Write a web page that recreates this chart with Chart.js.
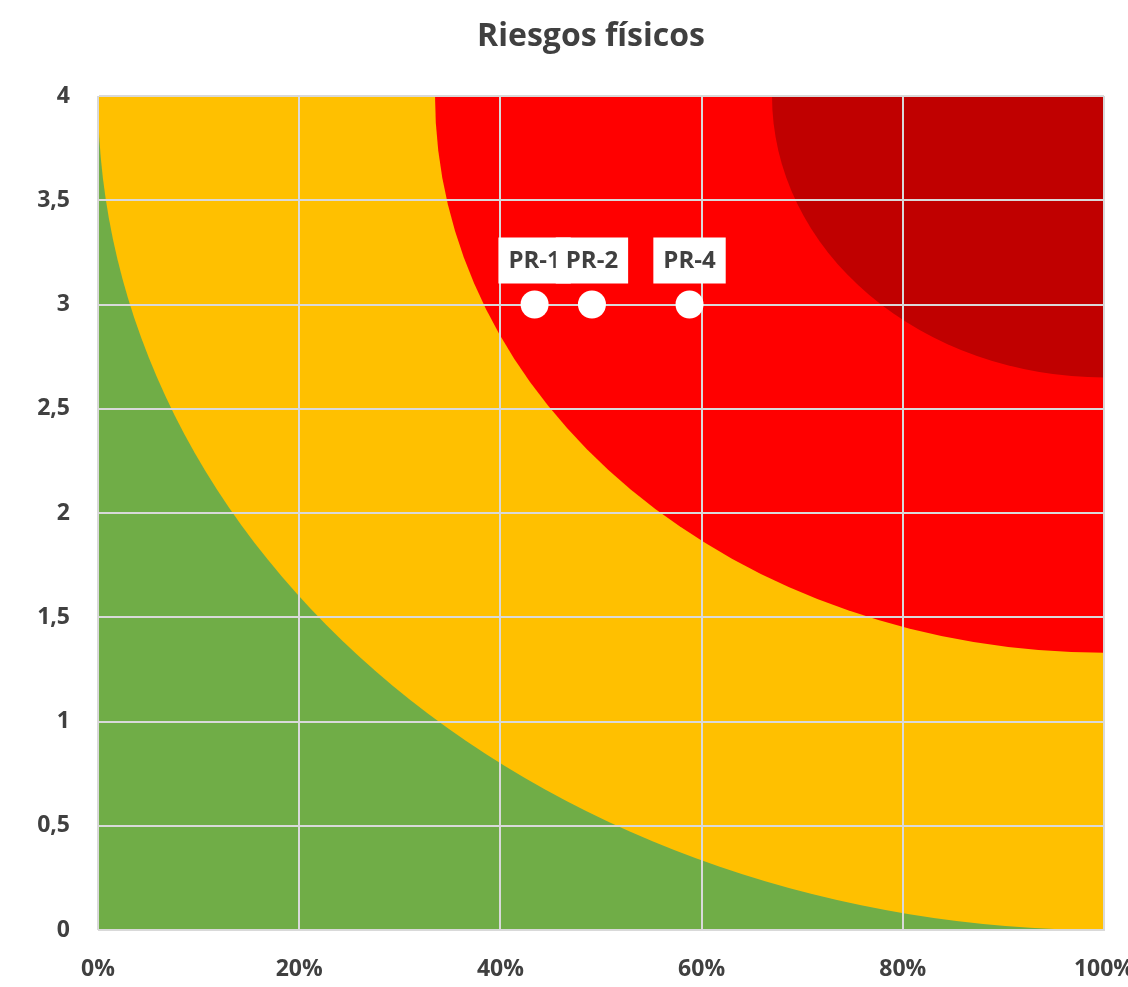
<!DOCTYPE html>
<html lang="es">
<head>
<meta charset="utf-8">
<title>Riesgos físicos</title>
<script src="https://cdn.jsdelivr.net/npm/chart.js@4.4.1/dist/chart.umd.min.js"></script>
<style>
  html, body { margin: 0; padding: 0; background: #ffffff; overflow: hidden; }
  #wrap { position: relative; width: 1140px; height: 987px; }
  canvas { display: block; }
</style>
</head>
<body>
<div id="wrap"><canvas id="chart" width="1140" height="987"></canvas></div>
<script>
// Risk items: probability (x) and impact (y)
const riskNames = ['PR-1', 'PR-2', 'PR-4'];
const riskProbability = [0.434, 0.491, 0.588];
const riskImpact = [3, 3, 3];

// Risk zones, each a quarter ellipse around the top-right corner.
// zoneTopEdge: probability where the zone starts along the top edge (impact = 4)
// zoneRightEdge: impact where the zone starts along the right edge (probability = 100%)
const zoneColors = ['#70AD47', '#FFC000', '#FF0000', '#C00000'];
const zoneTopEdge = [null, 0, 0.335, 0.67];
const zoneRightEdge = [null, 0, 1.33, 2.65];

// Axis tick labels
const xTickLabels = ['0%', '20%', '40%', '60%', '80%', '100%'];
const yTickLabels = ['0', '0,5', '1', '1,5', '2', '2,5', '3', '3,5', '4'];

const chartTitle = 'Riesgos físicos';

const textColor = '#404040';
const gridColor = '#d9d9d9';
const fontFamily = '"Open Sans", Lato, sans-serif';

// Paints the risk zones behind the grid
const zonesPlugin = {
  id: 'riskZones',
  beforeDraw(chart) {
    const { ctx, chartArea: a, scales: { x, y } } = chart;
    const cx = x.getPixelForValue(x.max);
    const cy = y.getPixelForValue(y.max);
    ctx.save();
    ctx.beginPath();
    ctx.rect(a.left, a.top, a.right - a.left, a.bottom - a.top);
    ctx.clip();
    ctx.fillStyle = zoneColors[0];
    ctx.fillRect(a.left, a.top, a.right - a.left, a.bottom - a.top);
    for (let i = 1; i < zoneColors.length; i++) {
      const rx = Math.abs(cx - x.getPixelForValue(zoneTopEdge[i]));
      const ry = Math.abs(y.getPixelForValue(zoneRightEdge[i]) - cy);
      ctx.beginPath();
      ctx.moveTo(cx, cy);
      ctx.ellipse(cx, cy, rx, ry, 0, Math.PI / 2, Math.PI, false);
      ctx.closePath();
      ctx.fillStyle = zoneColors[i];
      ctx.fill();
    }
    ctx.restore();
  }
};

// White label boxes above each risk point
const pointLabelsPlugin = {
  id: 'pointLabels',
  afterDatasetsDraw(chart) {
    const { ctx } = chart;
    const meta = chart.getDatasetMeta(0);
    ctx.save();
    ctx.font = 'bold 24px ' + fontFamily;
    ctx.textAlign = 'center';
    ctx.textBaseline = 'middle';
    meta.data.forEach((pt, i) => {
      const label = riskNames[i];
      const w = ctx.measureText(label).width + 20;
      const h = 46;
      const cx = pt.x;
      const cy = pt.y - 44;
      ctx.fillStyle = '#ffffff';
      ctx.fillRect(cx - w / 2, cy - h / 2, w, h);
      ctx.fillStyle = textColor;
      ctx.fillText(label, cx, cy + 1);
    });
    ctx.restore();
  }
};

// Chart heading
const headingPlugin = {
  id: 'heading',
  afterDraw(chart) {
    const { ctx, chartArea: a } = chart;
    ctx.save();
    ctx.font = 'bold 32px ' + fontFamily;
    ctx.fillStyle = textColor;
    ctx.textAlign = 'center';
    ctx.textBaseline = 'alphabetic';
    ctx.fillText(chartTitle, (a.left + a.right) / 2 - 10, 46);
    ctx.restore();
  }
};

new Chart(document.getElementById('chart'), {
  type: 'scatter',
  data: {
    datasets: [{
      label: 'Riesgos',
      data: riskProbability.map((p, i) => ({ x: p, y: riskImpact[i] })),
      pointRadius: 14,
      pointHoverRadius: 14,
      pointBackgroundColor: '#ffffff',
      pointBorderWidth: 0,
      borderWidth: 0
    }]
  },
  options: {
    responsive: false,
    maintainAspectRatio: false,
    animation: false,
    layout: { padding: { top: 96, right: 36, left: 0, bottom: 0 } },
    plugins: {
      legend: { display: false },
      title: { display: false },
      tooltip: { enabled: false }
    },
    scales: {
      x: {
        type: 'linear',
        min: 0,
        max: 1,
        afterBuildTicks(scale) {
          scale.ticks = xTickLabels.map((_, i) => ({ value: i / (xTickLabels.length - 1) }));
        },
        afterFit(scale) { scale.height = 57; },
        // invisible tick marks keep the labels clear of the plot edge
        grid: { color: gridColor, lineWidth: 2, drawTicks: true, tickLength: 26, tickColor: 'rgba(0,0,0,0)' },
        border: { color: gridColor, width: 1 },
        ticks: {
          padding: 0,
          color: textColor,
          font: { family: fontFamily, size: 23, weight: 'bold' },
          maxRotation: 0,
          callback: (v, i) => xTickLabels[i]
        }
      },
      y: {
        type: 'linear',
        min: 0,
        max: 4,
        afterBuildTicks(scale) {
          scale.ticks = yTickLabels.map((_, i) => ({ value: i * 0.5 }));
        },
        afterFit(scale) { scale.width = 98; },
        grid: { color: gridColor, lineWidth: 2, drawTicks: false },
        border: { color: gridColor, width: 1 },
        ticks: {
          padding: 28,
          color: textColor,
          font: { family: fontFamily, size: 23, weight: 'bold' },
          callback: (v, i) => yTickLabels[i]
        }
      }
    }
  },
  plugins: [zonesPlugin, pointLabelsPlugin, headingPlugin]
});
</script>
</body>
</html>
